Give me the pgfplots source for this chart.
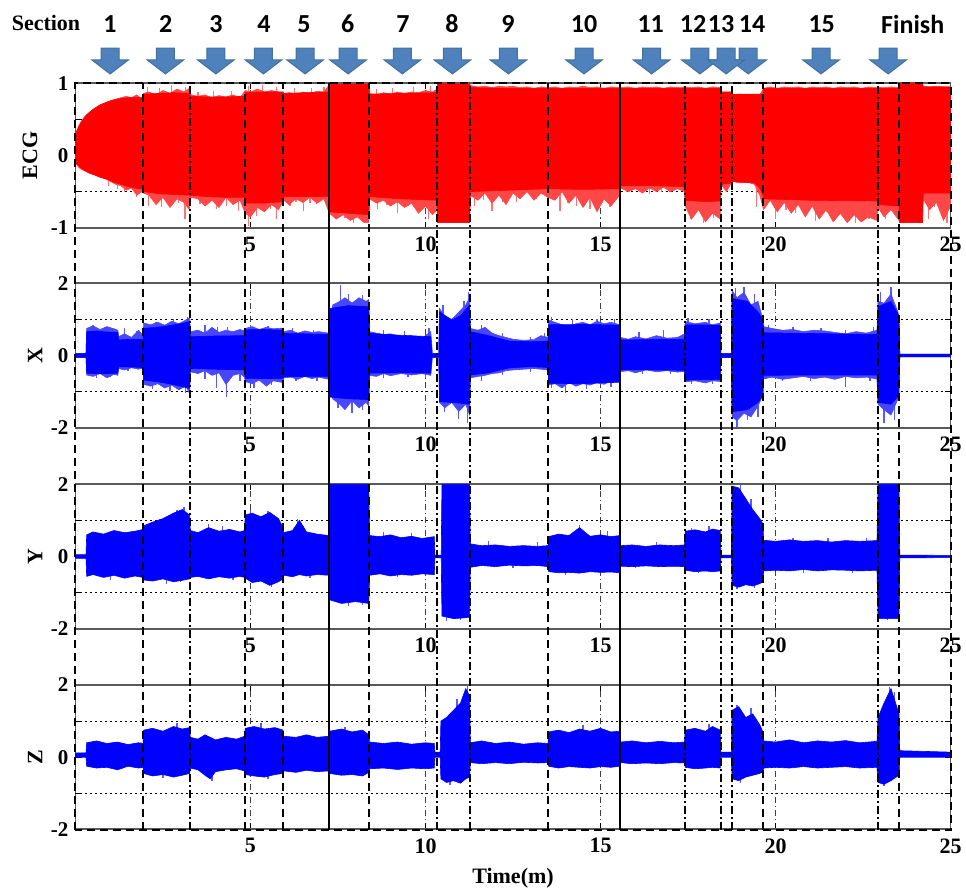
\documentclass[border=0pt]{standalone}
\usepackage{pgfplots}
\pgfplotsset{compat=1.18}
\usepackage{pgfplotstable}
\usepackage{fontspec}
\setmainfont{Liberation Serif}
\newfontfamily\secfont{Carlito}
\definecolor{arrowblue}{HTML}{4F81BD}
\definecolor{arrowedge}{HTML}{41719C}

\pgfdeclareplotmark{barrow}{%
 \pgfpathmoveto{\pgfpoint{-4.5pt}{6.35pt}}%
 \pgfpathlineto{\pgfpoint{4.5pt}{6.35pt}}%
 \pgfpathlineto{\pgfpoint{4.5pt}{0.5pt}}%
 \pgfpathlineto{\pgfpoint{9.15pt}{0.5pt}}%
 \pgfpathlineto{\pgfpoint{0pt}{-6.5pt}}%
 \pgfpathlineto{\pgfpoint{-9.15pt}{0.5pt}}%
 \pgfpathlineto{\pgfpoint{-4.5pt}{0.5pt}}%
 \pgfpathclose
 \pgfusepathqfillstroke
}

% ---------------- ECG: outer (spiky fringe) envelope ----------------
\pgfplotstableread{
t u l
0.00 0.30 -0.10
0.10 0.42 -0.17
0.20 0.50 -0.20
0.30 0.56 -0.22
0.40 0.60 -0.25
0.55 0.65 -0.27
0.70 0.70 -0.30
0.85 0.73 -0.32
1.00 0.76 -0.36
1.15 0.78 -0.40
1.30 0.80 -0.42
1.45 0.82 -0.48
1.60 0.80 -0.45
1.75 0.84 -0.55
1.90 0.78 -0.50
1.94 0.86 -0.52
2.10 0.88 -0.55
2.30 0.84 -0.68
2.50 0.90 -0.58
2.70 0.86 -0.72
2.90 0.92 -0.60
3.10 0.88 -0.65
3.25 0.93 -0.75
3.30 0.84 -0.58
3.50 0.82 -0.60
3.70 0.84 -0.70
3.90 0.80 -0.62
4.10 0.83 -0.72
4.30 0.81 -0.58
4.50 0.84 -0.68
4.70 0.80 -0.62
4.85 0.90 -0.80
5.00 0.88 -0.85
5.20 0.92 -0.72
5.40 0.88 -0.78
5.60 0.90 -0.68
5.80 0.88 -0.75
5.95 0.86 -0.62
6.10 0.87 -0.68
6.30 0.85 -0.60
6.50 0.88 -0.65
6.70 0.86 -0.58
6.90 0.89 -0.66
7.10 0.88 -0.60
7.25 0.98 -0.80
7.45 1.00 -0.88
7.65 0.97 -0.82
7.85 1.00 -0.90
8.05 0.98 -0.85
8.25 1.00 -0.93
8.38 0.99 -0.93
8.40 0.86 -0.60
8.60 0.84 -0.66
8.80 0.87 -0.62
9.00 0.85 -0.70
9.20 0.88 -0.64
9.40 0.86 -0.72
9.60 0.88 -0.66
9.80 0.87 -0.80
10.00 0.90 -0.70
10.20 0.88 -0.82
10.33 0.92 -0.75
10.35 1.00 -0.93
11.26 1.00 -0.93
11.28 0.97 -0.55
11.50 0.95 -0.62
11.70 0.96 -0.52
11.90 0.94 -0.66
12.10 0.96 -0.55
12.30 0.95 -0.68
12.50 0.96 -0.52
12.70 0.94 -0.60
12.90 0.95 -0.50
13.10 0.93 -0.62
13.30 0.95 -0.52
13.50 0.94 -0.58
13.70 0.95 -0.62
13.90 0.93 -0.50
14.10 0.95 -0.66
14.30 0.94 -0.55
14.50 0.96 -0.72
14.70 0.94 -0.58
14.90 0.95 -0.78
15.10 0.93 -0.60
15.30 0.95 -0.70
15.55 0.94 -0.55
15.57 0.94 -0.45
15.80 0.95 -0.50
16.00 0.93 -0.46
16.20 0.95 -0.52
16.40 0.94 -0.45
16.60 0.95 -0.50
16.80 0.93 -0.44
17.00 0.95 -0.50
17.20 0.94 -0.46
17.40 0.95 -0.50
17.42 0.95 -0.70
17.60 0.94 -0.88
17.80 0.95 -0.75
18.00 0.93 -0.92
18.20 0.95 -0.80
18.42 0.94 -0.88
18.44 0.88 -0.40
18.60 0.86 -0.50
18.74 0.88 -0.38
18.76 0.84 -0.36
19.00 0.85 -0.38
19.20 0.84 -0.37
19.40 0.85 -0.40
19.55 0.84 -0.55
19.66 0.93 -0.75
19.85 0.95 -0.62
20.05 0.93 -0.78
20.25 0.95 -0.65
20.45 0.94 -0.80
20.65 0.95 -0.68
20.85 0.93 -0.85
21.05 0.95 -0.70
21.25 0.94 -0.88
21.45 0.95 -0.75
21.65 0.93 -0.92
21.85 0.95 -0.80
22.05 0.94 -0.93
22.25 0.95 -0.82
22.45 0.93 -0.92
22.65 0.95 -0.85
22.90 0.94 -0.90
22.93 0.95 -0.72
23.10 0.94 -0.85
23.30 0.95 -0.75
23.53 0.94 -0.90
23.55 1.00 -0.93
24.20 1.00 -0.93
24.22 0.96 -0.60
24.40 0.95 -0.75
24.60 0.96 -0.65
24.80 0.95 -0.90
25.00 0.95 -0.70
}\ecgouter

% ---------------- ECG: dense core envelope ----------------
\pgfplotstableread{
t u l
0.00 0.30 -0.10
0.15 0.45 -0.17
0.30 0.55 -0.22
0.50 0.64 -0.26
0.70 0.70 -0.30
0.90 0.74 -0.33
1.10 0.77 -0.37
1.30 0.79 -0.40
1.50 0.80 -0.43
1.70 0.80 -0.45
1.93 0.80 -0.47
1.95 0.85 -0.50
2.40 0.86 -0.53
2.80 0.87 -0.54
3.26 0.86 -0.55
3.28 0.82 -0.55
3.80 0.81 -0.57
4.30 0.81 -0.58
4.83 0.82 -0.58
4.85 0.87 -0.66
5.40 0.88 -0.66
5.93 0.88 -0.64
5.95 0.86 -0.57
6.60 0.87 -0.57
7.24 0.88 -0.57
7.26 0.98 -0.78
7.80 0.99 -0.80
8.38 0.99 -0.82
8.40 0.85 -0.57
9.30 0.86 -0.60
10.33 0.87 -0.62
10.35 1.00 -0.93
11.26 1.00 -0.93
11.28 0.94 -0.50
12.40 0.93 -0.48
13.50 0.93 -0.46
14.50 0.93 -0.47
15.55 0.93 -0.46
15.57 0.93 -0.42
16.50 0.93 -0.42
17.40 0.93 -0.43
17.42 0.93 -0.62
18.00 0.93 -0.64
18.42 0.93 -0.63
18.44 0.88 -0.40
18.74 0.88 -0.38
18.76 0.85 -0.36
19.40 0.85 -0.38
19.55 0.85 -0.45
19.64 0.85 -0.55
19.66 0.93 -0.60
21.00 0.93 -0.62
22.90 0.93 -0.63
22.93 0.93 -0.68
23.53 0.93 -0.70
23.55 1.00 -0.93
24.20 1.00 -0.93
24.22 0.95 -0.52
25.00 0.95 -0.52
}\ecgdata

% ECG: single spikes beyond the core
\pgfplotstableread{
t v
2.05 0.95
2.40 0.93
2.75 0.97
3.15 0.95
3.50 0.88
3.95 0.90
4.45 0.89
4.95 0.96
5.35 0.97
5.75 0.95
6.25 0.93
6.75 0.94
7.10 0.95
8.60 0.92
9.05 0.94
9.65 0.95
10.15 0.96
0.95 -0.42
1.20 -0.46
1.40 -0.50
1.75 -0.58
2.08 -0.70
2.25 -0.62
2.46 -0.72
2.70 -0.65
2.95 -0.66
3.13 -0.88
3.56 -0.67
3.80 -0.64
4.03 -0.74
4.32 -0.70
4.50 -0.66
4.66 -0.77
4.94 -0.97
5.18 -0.84
5.40 -0.78
5.56 -0.74
5.75 -0.88
6.13 -0.70
6.30 -0.64
6.51 -0.77
6.70 -0.66
6.89 -0.67
7.46 -0.88
7.70 -0.86
7.94 -0.93
8.20 -0.92
8.63 -0.74
8.90 -0.68
9.20 -0.79
9.50 -0.70
9.75 -0.72
10.08 -0.88
11.40 -0.70
11.65 -0.62
11.90 -0.77
12.20 -0.64
12.60 -0.65
13.17 -0.60
13.50 -0.62
13.84 -0.77
14.05 -0.66
14.32 -0.70
14.70 -0.74
15.05 -0.66
15.27 -0.72
15.75 -0.51
16.10 -0.48
16.41 -0.53
16.75 -0.50
16.98 -0.51
17.56 -0.88
17.75 -0.80
17.94 -0.93
18.10 -0.78
18.22 -0.86
19.45 -0.72
20.00 -0.88
20.30 -0.76
20.58 -0.79
20.85 -0.80
21.15 -0.91
21.45 -0.78
21.72 -0.84
22.00 -0.82
22.29 -0.93
22.50 -0.80
22.67 -0.88
23.15 -0.88
23.40 -0.80
24.36 -0.88
24.55 -0.72
24.75 -0.84
24.90 -0.93
}\ecgspk

% ---------------- X: outer (spiky fringe) envelope ----------------
\pgfplotstableread{
t u l
0.00 0.05 -0.05
0.30 0.05 -0.05
0.32 0.75 -0.54
0.50 0.82 -0.58
0.70 0.72 -0.50
0.90 0.80 -0.62
1.10 0.74 -0.52
1.21 0.70 -0.55
1.23 0.52 -0.36
1.40 0.60 -0.40
1.60 0.50 -0.34
1.80 0.70 -0.38
1.93 0.55 -0.35
1.95 0.90 -0.80
2.15 0.85 -0.85
2.35 0.92 -0.78
2.55 0.84 -0.90
2.75 0.95 -0.82
2.95 0.88 -0.95
3.15 0.98 -0.85
3.26 1.05 -1.05
3.28 0.66 -0.45
3.50 0.70 -0.50
3.70 0.62 -0.42
3.90 0.78 -0.55
4.10 0.64 -0.48
4.30 0.70 -0.80
4.50 0.66 -0.55
4.70 0.72 -0.50
4.83 0.68 -0.60
4.85 0.75 -0.72
5.05 0.80 -0.78
5.25 0.72 -0.68
5.45 0.78 -0.85
5.65 0.74 -0.70
5.93 0.76 -0.75
5.95 0.66 -0.62
6.15 0.70 -0.60
6.35 0.62 -0.66
6.55 0.68 -0.58
6.75 0.64 -0.64
6.95 0.66 -0.60
7.24 0.62 -0.66
7.26 0.95 -0.90
7.35 1.40 -1.20
7.55 1.50 -1.35
7.70 1.60 -1.50
7.90 1.45 -1.25
8.10 1.60 -1.45
8.30 1.50 -1.30
8.38 1.55 -1.40
8.40 0.66 -0.55
8.60 0.62 -0.58
8.80 0.58 -0.50
9.00 0.60 -0.56
9.30 0.52 -0.50
9.60 0.55 -0.54
9.90 0.48 -0.50
10.15 0.66 -0.55
10.20 0.05 -0.05
10.38 0.05 -0.05
10.40 1.30 -1.30
10.55 1.10 -1.45
10.75 1.00 -1.30
10.95 1.20 -1.55
11.15 1.40 -1.35
11.26 1.60 -1.65
11.28 0.75 -0.62
11.50 0.70 -0.58
11.70 0.78 -0.55
11.90 0.62 -0.50
12.10 0.55 -0.48
12.30 0.50 -0.42
12.50 0.45 -0.40
12.80 0.42 -0.38
13.10 0.44 -0.36
13.30 0.55 -0.38
13.50 0.50 -0.40
13.52 0.98 -0.82
13.70 0.92 -0.78
13.90 0.85 -0.90
14.10 0.80 -0.75
14.30 0.88 -0.85
14.50 0.92 -0.78
14.70 0.85 -0.82
14.90 0.95 -0.75
15.10 0.88 -0.80
15.30 0.92 -0.70
15.55 0.85 -0.72
15.57 0.50 -0.45
15.80 0.45 -0.42
16.00 0.52 -0.48
16.30 0.46 -0.40
16.60 0.55 -0.45
16.90 0.48 -0.42
17.20 0.50 -0.46
17.40 0.60 -0.44
17.42 0.94 -0.73
17.70 0.88 -0.70
18.00 0.92 -0.76
18.20 0.85 -0.70
18.42 0.90 -0.72
18.44 0.05 -0.05
18.74 0.05 -0.05
18.76 1.80 -1.70
18.90 1.60 -1.80
19.10 1.75 -1.60
19.30 1.40 -1.70
19.50 1.50 -1.40
19.64 1.00 -1.10
19.66 0.80 -0.65
19.90 0.75 -0.60
20.20 0.70 -0.66
20.50 0.72 -0.62
20.80 0.66 -0.58
21.10 0.70 -0.64
21.40 0.68 -0.60
21.70 0.64 -0.66
22.00 0.60 -0.58
22.30 0.66 -0.62
22.60 0.62 -0.60
22.90 0.70 -0.65
22.93 1.50 -1.35
23.10 1.45 -1.50
23.30 1.70 -1.65
23.50 1.20 -1.20
23.53 0.70 -0.60
23.55 0.04 -0.04
25.00 0.04 -0.04
}\xouter

% ---------------- X: dense core ----------------
\pgfplotstableread{
t u l
0.00 0.05 -0.05
0.30 0.05 -0.05
0.32 0.66 -0.49
0.60 0.68 -0.50
0.90 0.65 -0.50
1.21 0.64 -0.49
1.23 0.43 -0.31
1.60 0.45 -0.32
1.93 0.44 -0.33
1.95 0.75 -0.68
2.50 0.80 -0.75
3.00 0.88 -0.85
3.26 0.94 -0.91
3.28 0.52 -0.36
4.00 0.54 -0.38
4.83 0.55 -0.40
4.85 0.71 -0.63
5.40 0.72 -0.64
5.93 0.70 -0.63
5.95 0.61 -0.59
6.60 0.60 -0.58
7.24 0.58 -0.58
7.26 1.30 -1.15
7.80 1.38 -1.20
8.38 1.35 -1.22
8.40 0.61 -0.49
9.30 0.56 -0.48
10.15 0.52 -0.49
10.18 0.05 -0.05
10.38 0.05 -0.05
10.40 1.21 -1.28
10.75 0.98 -1.30
11.00 1.10 -1.32
11.26 1.40 -1.35
11.28 0.66 -0.54
11.80 0.55 -0.48
12.40 0.40 -0.34
13.00 0.38 -0.31
13.50 0.40 -0.33
13.52 0.85 -0.77
14.50 0.86 -0.78
15.55 0.84 -0.74
15.57 0.43 -0.40
16.50 0.44 -0.40
17.40 0.45 -0.41
17.42 0.85 -0.68
18.42 0.84 -0.66
18.44 0.05 -0.05
18.74 0.05 -0.05
18.76 1.58 -1.56
19.20 1.50 -1.50
19.50 1.20 -1.30
19.64 1.00 -1.10
19.66 0.63 -0.55
21.00 0.61 -0.54
22.90 0.58 -0.54
22.93 1.35 -1.30
23.30 1.50 -1.35
23.53 1.10 -1.10
23.55 0.04 -0.04
25.00 0.04 -0.04
}\xdata

\pgfplotstableread{
t v
0.50 0.85
0.85 0.80
1.40 0.75
1.75 0.68
2.30 0.92
2.80 1.00
3.20 1.08
3.70 0.85
4.05 0.80
4.35 0.78
5.00 0.85
5.50 0.82
6.20 0.75
6.80 0.72
7.57 1.95
7.80 1.70
8.20 1.68
8.80 0.72
9.40 0.68
10.10 0.75
10.50 1.40
11.10 1.50
11.22 1.77
11.60 0.85
12.20 0.62
13.00 0.50
13.40 0.62
13.60 1.08
14.20 1.00
14.90 1.02
15.40 1.00
16.10 0.65
16.80 0.71
17.50 1.05
18.10 1.00
18.85 1.86
19.10 1.90
19.40 1.70
19.80 0.85
20.50 0.80
21.30 0.75
22.00 0.72
22.80 0.78
23.00 1.75
23.30 1.90
0.60 -0.63
1.00 -0.60
1.50 -0.42
2.20 -0.92
2.70 -0.98
3.15 -1.05
3.70 -0.65
4.03 -0.90
4.32 -1.14
4.70 -0.70
5.10 -0.91
5.60 -0.82
6.30 -0.72
6.90 -0.70
7.50 -1.45
7.90 -1.60
8.20 -1.50
8.80 -0.62
9.50 -0.60
10.00 -0.62
10.55 -1.56
10.95 -1.75
11.20 -1.88
11.60 -0.70
12.20 -0.55
13.00 -0.45
13.60 -0.90
14.00 -1.05
14.60 -0.92
15.30 -0.88
16.20 -0.50
17.00 -0.52
17.60 -0.80
18.20 -0.78
18.90 -1.97
19.20 -1.80
19.50 -1.70
20.20 -0.70
21.00 -0.72
22.00 -0.86
22.70 -0.72
23.10 -1.88
23.40 -1.80
}\xspk

% ---------------- Y ----------------
\pgfplotstableread{
t u l
0.00 0.05 -0.05
0.30 0.05 -0.05
0.32 0.60 -0.55
0.50 0.68 -0.50
0.80 0.62 -0.58
1.10 0.72 -0.52
1.40 0.66 -0.60
1.70 0.70 -0.54
1.93 0.75 -0.58
1.95 0.85 -0.65
2.20 0.95 -0.68
2.50 1.05 -0.62
2.80 1.20 -0.70
3.05 1.30 -0.66
3.26 1.15 -0.62
3.28 0.72 -0.58
3.50 0.66 -0.55
3.80 0.80 -0.62
4.10 0.70 -0.56
4.40 0.75 -0.60
4.70 0.68 -0.55
4.83 0.72 -0.58
4.85 1.15 -0.60
5.05 1.20 -0.72
5.30 1.10 -0.68
5.55 1.22 -0.80
5.80 1.05 -0.70
5.93 0.80 -0.62
5.95 0.66 -0.52
6.20 0.72 -0.56
6.40 1.00 -0.50
6.60 0.68 -0.54
6.90 0.62 -0.50
7.24 0.58 -0.52
7.26 2.00 -1.20
7.60 2.00 -1.30
8.00 2.00 -1.25
8.38 2.00 -1.30
8.40 0.58 -0.52
8.70 0.55 -0.48
9.00 0.60 -0.54
9.30 0.52 -0.50
9.60 0.56 -0.52
9.90 0.50 -0.48
10.25 0.55 -0.50
10.27 0.04 -0.04
10.45 0.04 -0.04
10.47 2.00 -1.65
10.80 2.00 -1.72
11.10 2.00 -1.70
11.26 2.00 -1.68
11.28 0.35 -0.30
11.60 0.30 -0.25
12.00 0.32 -0.28
12.40 0.28 -0.24
12.80 0.30 -0.26
13.20 0.28 -0.25
13.50 0.30 -0.28
13.52 0.55 -0.42
13.80 0.62 -0.45
14.10 0.58 -0.44
14.40 0.80 -0.46
14.70 0.56 -0.42
15.00 0.60 -0.44
15.30 0.55 -0.43
15.55 0.58 -0.45
15.57 0.30 -0.27
15.90 0.32 -0.28
16.30 0.28 -0.26
16.70 0.32 -0.28
17.10 0.30 -0.27
17.40 0.32 -0.28
17.42 0.70 -0.38
17.70 0.74 -0.42
18.00 0.68 -0.40
18.20 0.76 -0.42
18.42 0.72 -0.40
18.44 0.04 -0.04
18.74 0.04 -0.04
18.76 1.95 -0.80
18.95 1.90 -0.85
19.15 1.60 -0.78
19.35 1.30 -0.82
19.55 1.05 -0.75
19.64 0.90 -0.70
19.66 0.45 -0.40
20.00 0.42 -0.38
20.40 0.46 -0.40
20.80 0.42 -0.36
21.20 0.44 -0.40
21.60 0.40 -0.37
22.00 0.44 -0.38
22.40 0.42 -0.40
22.90 0.44 -0.38
22.93 2.00 -1.72
23.53 2.00 -1.72
23.55 0.04 -0.04
25.00 0.03 -0.03
}\ydata

\pgfplotstableread{
t v
2.40 1.05
2.90 1.28
3.10 1.38
3.80 0.90
4.20 0.85
5.00 1.30
5.50 1.25
6.35 1.05
6.50 0.85
8.80 0.68
9.60 0.65
11.80 0.42
13.20 0.40
14.40 0.88
15.20 0.70
16.60 0.40
17.60 0.80
18.10 0.85
19.00 2.00
19.30 1.60
20.50 0.52
21.50 0.50
22.60 0.52
1.00 -0.65
2.60 -0.75
3.00 -0.72
4.50 -0.65
5.60 -0.85
6.70 -0.60
7.80 -1.38
8.20 -1.35
9.20 -0.58
10.60 -1.78
11.00 -1.75
12.50 -0.32
14.00 -0.50
16.00 -0.32
17.80 -0.46
18.90 -0.90
19.40 -0.88
20.80 -0.45
22.20 -0.45
23.20 -1.75
}\yspk

% ---------------- Z ----------------
\pgfplotstableread{
t u l
0.00 0.12 0.00
0.30 0.12 0.00
0.32 0.40 -0.25
0.60 0.45 -0.30
0.90 0.38 -0.28
1.20 0.42 -0.35
1.50 0.35 -0.25
1.80 0.40 -0.30
1.93 0.38 -0.28
1.95 0.75 -0.45
2.20 0.80 -0.52
2.50 0.72 -0.48
2.80 0.85 -0.55
3.05 0.78 -0.50
3.26 0.82 -0.45
3.28 0.55 -0.30
3.50 0.50 -0.35
3.70 0.62 -0.50
3.85 0.55 -0.60
4.00 0.48 -0.40
4.30 0.55 -0.35
4.60 0.50 -0.32
4.83 0.58 -0.38
4.85 0.80 -0.48
5.10 0.85 -0.52
5.40 0.78 -0.55
5.70 0.82 -0.48
5.93 0.75 -0.45
5.95 0.58 -0.38
6.30 0.55 -0.42
6.60 0.62 -0.36
6.90 0.55 -0.40
7.24 0.58 -0.38
7.26 0.72 -0.45
7.60 0.78 -0.50
7.90 0.70 -0.48
8.20 0.75 -0.52
8.38 0.62 -0.42
8.40 0.42 -0.32
8.80 0.38 -0.30
9.20 0.42 -0.34
9.60 0.36 -0.30
10.00 0.40 -0.32
10.25 0.38 -0.30
10.27 0.14 0.00
10.42 0.14 0.00
10.44 1.00 -0.60
10.60 1.10 -0.70
10.80 1.30 -0.65
11.00 1.50 -0.72
11.15 1.90 -0.60
11.26 1.70 -0.55
11.28 0.40 -0.15
11.60 0.45 -0.18
12.00 0.38 -0.15
12.40 0.42 -0.18
12.80 0.36 -0.14
13.20 0.40 -0.16
13.50 0.38 -0.15
13.52 0.70 -0.25
13.80 0.75 -0.30
14.10 0.68 -0.26
14.40 0.78 -0.28
14.70 0.72 -0.30
15.00 0.80 -0.26
15.30 0.70 -0.28
15.55 0.72 -0.25
15.57 0.42 -0.15
15.90 0.45 -0.18
16.30 0.40 -0.16
16.70 0.44 -0.18
17.10 0.40 -0.15
17.40 0.42 -0.16
17.42 0.75 -0.28
17.70 0.80 -0.32
18.00 0.72 -0.30
18.20 0.85 -0.28
18.42 0.75 -0.30
18.44 0.14 0.00
18.74 0.14 0.00
18.76 1.30 -0.60
18.95 1.40 -0.65
19.15 1.10 -0.55
19.35 1.20 -0.50
19.55 0.90 -0.45
19.64 0.70 -0.40
19.66 0.45 -0.30
20.00 0.42 -0.28
20.40 0.48 -0.30
20.80 0.40 -0.26
21.20 0.45 -0.30
21.60 0.42 -0.28
22.00 0.46 -0.26
22.40 0.40 -0.30
22.90 0.44 -0.28
22.93 1.10 -0.70
23.10 1.50 -0.75
23.30 1.90 -0.65
23.53 1.20 -0.50
23.55 0.18 0.00
25.00 0.14 0.00
}\zdata

\pgfplotstableread{
t v
2.90 0.95
5.30 0.95
7.70 0.85
10.90 1.60
11.20 2.00
14.50 0.88
18.10 0.92
18.90 1.45
19.30 1.35
23.25 1.95
23.40 1.80
2.50 -0.58
3.90 -0.65
5.50 -0.60
10.70 -0.78
19.00 -0.72
23.10 -0.80
}\zspk

\pgfplotsset{
  panel/.style={
    width=437.5pt, height=72.2pt, scale only axis,
    anchor=north west,
    xmin=0, xmax=25, xtick={5,10,15,20,25}, xticklabels={5,10,15,20,25},
    xmajorgrids,
    x grid style={black!75, line width=0.4pt, dash pattern=on 3pt off 1.5pt on 0.6pt off 1.5pt},
    y grid style={black, line width=0.5pt, dash pattern=on 1pt off 1.5pt},
    axis line style={black!65, line width=0.9pt},
    tick style={black, line width=0.5pt}, major tick length=3pt,
    tick align=inside,
    xticklabel style={font=\fontsize{11}{13}\selectfont\bfseries, yshift=-1pt},
    yticklabel style={font=\fontsize{10.5}{12}\selectfont\bfseries},
    ylabel style={font=\fontsize{11}{13}\selectfont\bfseries},
    /pgf/number format/assume math mode=true,
    extra y tick labels={},
    extra y tick style={grid=major},
  },
  spike/.style={ycomb, draw=#1, line width=0.6pt, mark=none},
  band/.style={fill=#1, draw=#1, line width=0.3pt},
  secline/.style={black, line width=1pt, dash pattern=on 4pt off 2.5pt},
  secdd/.style={black, line width=1pt, dash pattern=on 4pt off 1.5pt on 1pt off 1.5pt},
  secsolid/.style={black, line width=1pt},
}

\begin{document}
\begin{tikzpicture}
\path[use as bounding box] (0,0) rectangle (483pt,-446.5pt);

% ECG panel
\begin{axis}[panel, at={(37.75pt,-41.65pt)}, clip=false,
  ymin=-1, ymax=1, ytick={-1,0,1}, yticklabels={-1,0,1},
  extra y ticks={-0.5,0.5},
  ylabel={ECG}, ylabel style={at={(-0.052,0.5)}, anchor=center}]
\addplot[spike=red!55] table[x=t,y=v]{\ecgspk};
\addplot[band=red!72] table[x=t,y=u]{\ecgouter} \closedcycle;
\addplot[band=red!72] table[x=t,y=l]{\ecgouter} \closedcycle;
\addplot[band=red] table[x=t,y=u]{\ecgdata} \closedcycle;
\addplot[band=red] table[x=t,y=l]{\ecgdata} \closedcycle;
\addplot[only marks, mark=barrow, mark options={fill=arrowblue, draw=arrowedge, line width=0.5pt}]
 coordinates {(0.99,1.31) (2.57,1.31) (4.01,1.31) (5.37,1.31) (6.56,1.31) (7.79,1.31)
 (9.34,1.31) (10.77,1.31) (12.37,1.31) (14.53,1.31) (16.46,1.31) (17.84,1.31)
 (19.22,1.31) (18.59,1.31) (21.30,1.31) (23.22,1.31)};
\end{axis}

% X panel
\begin{axis}[panel, at={(37.75pt,-141.65pt)},
  ymin=-2, ymax=2, ytick={-2,0,2}, yticklabels={-2,0,2},
  extra y ticks={-1,1},
  ylabel={X}, ylabel style={at={(-0.046,0.5)}, anchor=center}]
\addplot[spike=blue!65] table[x=t,y=v]{\xspk};
\addplot[band=blue!72] table[x=t,y=u]{\xouter} \closedcycle;
\addplot[band=blue!72] table[x=t,y=l]{\xouter} \closedcycle;
\addplot[band=blue] table[x=t,y=u]{\xdata} \closedcycle;
\addplot[band=blue] table[x=t,y=l]{\xdata} \closedcycle;
\end{axis}

% Y panel
\begin{axis}[panel, at={(37.75pt,-242.15pt)},
  ymin=-2, ymax=2, ytick={-2,0,2}, yticklabels={-2,0,2},
  extra y ticks={-1,1},
  ylabel={Y}, ylabel style={at={(-0.046,0.5)}, anchor=center}]
\addplot[spike=blue!65] table[x=t,y=v]{\yspk};
\addplot[band=blue] table[x=t,y=u]{\ydata} \closedcycle;
\addplot[band=blue] table[x=t,y=l]{\ydata} \closedcycle;
\end{axis}

% Z panel
\begin{axis}[panel, at={(37.75pt,-342.5pt)},
  ymin=-2, ymax=2, ytick={-2,0,2}, yticklabels={-2,0,2},
  extra y ticks={-1,1},
  ylabel={Z}, ylabel style={at={(-0.046,0.5)}, anchor=center},
  xlabel={Time(m)},
  xlabel style={at={(0.5,-0.34)}, anchor=center, font=\fontsize{11}{13}\selectfont\bfseries}]
\addplot[spike=blue!65] table[x=t,y=v]{\zspk};
\addplot[band=blue] table[x=t,y=u]{\zdata} \closedcycle;
\addplot[band=blue] table[x=t,y=l]{\zdata} \closedcycle;
\end{axis}

% section boundary overlay
\begin{axis}[at={(37.75pt,-41.65pt)}, anchor=north west, width=437.5pt, height=373.35pt,
  scale only axis, xmin=0, xmax=25, ymin=0, ymax=1, axis lines=none, clip=false]
\addplot[secline] coordinates {(0,0) (0,1) (25,1) (25,0) (0,0)};
\addplot[secline] coordinates {(1.94,0) (1.94,1)};
\addplot[secdd] coordinates {(3.27,0) (3.27,1)};
\addplot[secline] coordinates {(4.84,0) (4.84,1)};
\addplot[secline] coordinates {(5.94,0) (5.94,1)};
\addplot[secsolid] coordinates {(7.25,0) (7.25,1)};
\addplot[secline] coordinates {(8.39,0) (8.39,1)};
\addplot[secdd] coordinates {(10.34,0) (10.34,1)};
\addplot[secdd] coordinates {(11.27,0) (11.27,1)};
\addplot[secline] coordinates {(13.51,0) (13.51,1)};
\addplot[secsolid] coordinates {(15.56,0) (15.56,1)};
\addplot[secdd] coordinates {(17.41,0) (17.41,1)};
\addplot[secdd] coordinates {(18.43,0) (18.43,1)};
\addplot[secdd] coordinates {(18.75,0) (18.75,1)};
\addplot[secline] coordinates {(19.65,0) (19.65,1)};
\addplot[secdd] coordinates {(22.92,0) (22.92,1)};
\addplot[secline] coordinates {(23.54,0) (23.54,1)};
\end{axis}

% section labels (text)
\node[font=\fontsize{11}{13}\selectfont\bfseries, anchor=center] at (23pt,-11.25pt) {Section};
\begin{scope}[every node/.style={font=\secfont\bfseries\fontsize{13}{15}\selectfont, anchor=center, inner sep=0pt}]
\node at (55pt,-12pt) {1};
\node at (82.85pt,-12pt) {2};
\node at (108pt,-12pt) {3};
\node at (132pt,-12pt) {4};
\node at (152pt,-12pt) {5};
\node at (173.85pt,-12pt) {6};
\node at (201.5pt,-12pt) {7};
\node at (226pt,-12pt) {8};
\node at (254pt,-12pt) {9};
\node at (292pt,-12pt) {10};
\node at (325.35pt,-12pt) {11};
\node at (346.5pt,-12pt) {12};
\node at (360.5pt,-12pt) {13};
\node at (376pt,-12pt) {14};
\node at (410.85pt,-12pt) {15};
\node at (456.35pt,-12pt) {Finish};
\end{scope}
\end{tikzpicture}
\end{document}
